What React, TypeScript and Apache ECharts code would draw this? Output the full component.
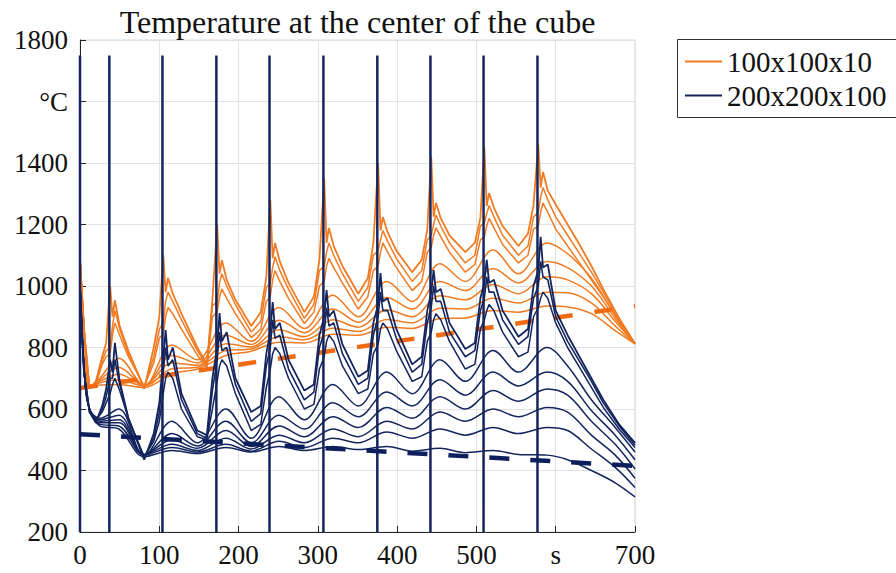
import React, { useEffect, useRef } from "react";
import * as echarts from "echarts";

// ---- time grids (s) ----
const T_FINE = [0, 5, 12, 20, 28, 33,
  38, 41, 44, 50, 61, 81, 93, 100,
  105, 108, 111, 117, 128, 148, 160, 167,
  173, 176, 179, 185, 196, 216, 228, 235,
  240, 243, 246, 252, 263, 283, 295, 302,
  308, 311, 314, 320, 331, 351, 363, 370,
  376, 379, 382, 388, 399, 419, 431, 438,
  443, 446, 449, 455, 466, 486, 498, 505,
  510, 513, 516, 522, 533, 553, 565, 572,
  578, 581, 584, 590, 600, 615, 630, 645, 660, 680, 700];

const T_MID = [0, 6, 12, 25, 49, 81, 116, 148, 184, 216, 251, 283, 319, 351, 387, 419, 454, 486, 521, 553, 589, 615, 645, 675, 700];

// ---- 100x100x10 (orange) ----
const O1 = [1090, 860, 668, 690, 770, 815,
  1000, 900, 954, 870, 790, 665, 800, 899,
  1100, 980, 1026, 975, 910, 800, 745, 955,
  1200, 1040, 1084, 1020, 955, 870, 915, 1029,
  1280, 1090, 1140, 1080, 1010, 915, 965, 1085,
  1350, 1140, 1189, 1130, 1065, 975, 1025, 1140,
  1400, 1180, 1224, 1175, 1115, 1045, 1085, 1182,
  1420, 1225, 1270, 1220, 1165, 1110, 1140, 1221,
  1450, 1260, 1302, 1255, 1195, 1130, 1170, 1263,
  1460, 1320, 1371, 1310, 1265, 1200, 1135, 1065, 990, 895, 812];
const O2 = [1090, 860, 668, 685, 755, 790,
  800, 870, 920, 860, 780, 672, 770, 860,
  880, 950, 980, 950, 890, 790, 740, 935,
  950, 1010, 1040, 1000, 940, 850, 885, 995,
  1010, 1060, 1095, 1050, 990, 895, 940, 1050,
  1065, 1110, 1140, 1100, 1040, 950, 995, 1100,
  1115, 1150, 1180, 1145, 1090, 1015, 1050, 1150,
  1165, 1200, 1231, 1195, 1140, 1075, 1100, 1195,
  1205, 1235, 1262, 1225, 1165, 1100, 1130, 1225,
  1240, 1290, 1320, 1280, 1225, 1165, 1105, 1045, 980, 892, 812];
const O3 = [1090, 860, 668, 682, 745, 770,
  780, 840, 880, 840, 770, 674, 750, 830,
  845, 900, 930, 910, 860, 775, 735, 900,
  915, 965, 990, 960, 910, 832, 860, 950,
  965, 1020, 1050, 1015, 960, 878, 915, 1000,
  1015, 1065, 1090, 1060, 1010, 925, 965, 1050,
  1065, 1110, 1140, 1110, 1060, 985, 1015, 1110,
  1125, 1165, 1189, 1160, 1110, 1045, 1070, 1150,
  1160, 1195, 1220, 1190, 1135, 1075, 1100, 1185,
  1195, 1240, 1270, 1240, 1185, 1130, 1075, 1020, 965, 885, 812];
const O4 = [1090, 830, 668, 700, 765, 676, 808, 760, 880, 820, 930, 862, 970, 900, 1015, 950, 1072, 1015, 1117, 1040, 1140, 1105, 1025, 905, 812];
const O5 = [1090, 830, 668, 695, 735, 678, 774, 750, 840, 810, 889, 848, 925, 882, 963, 925, 1015, 985, 1057, 1010, 1080, 1060, 1000, 895, 812];
const O6 = [1090, 830, 668, 690, 713, 678, 750, 742, 812, 802, 858, 835, 890, 866, 923, 900, 968, 955, 1005, 975, 1030, 1020, 975, 885, 812];
const O7 = [1090, 830, 668, 685, 695, 675, 731, 736, 790, 795, 835, 825, 863, 852, 891, 880, 928, 925, 960, 945, 980, 978, 945, 870, 812];
const O8 = [1090, 830, 668, 678, 680, 670, 715, 730, 774, 788, 817, 815, 843, 840, 866, 862, 894, 896, 920, 915, 935, 932, 910, 855, 812];

// ---- 200x200x100 (navy) ----
const N1 = [1000, 720, 590, 555, 610, 665,
  760, 720, 815, 690, 570, 435, 520, 620,
  760, 857, 760, 800, 650, 530, 515, 700,
  800, 912, 820, 850, 700, 590, 610, 780,
  850, 948, 860, 880, 760, 660, 680, 840,
  900, 987, 900, 920, 810, 705, 725, 880,
  940, 1042, 950, 960, 860, 745, 770, 920,
  980, 1052, 980, 990, 880, 795, 815, 960,
  1010, 1085, 1010, 1020, 920, 835, 860, 1000,
  1050, 1160, 1060, 1070, 920, 840, 770, 700, 630, 550, 490];
const N2 = [1000, 720, 590, 560, 600, 640,
  700, 700, 760, 680, 570, 440, 505, 590,
  720, 800, 740, 760, 630, 520, 505, 660,
  760, 850, 790, 800, 680, 560, 585, 740,
  800, 890, 830, 840, 730, 630, 655, 800,
  850, 930, 870, 880, 780, 680, 700, 840,
  900, 980, 920, 920, 830, 720, 745, 880,
  930, 1000, 950, 950, 850, 770, 790, 920,
  960, 1030, 980, 980, 890, 810, 835, 960,
  1000, 1080, 1030, 1020, 900, 820, 755, 690, 620, 545, 482];
const N3 = [1000, 720, 595, 565, 590, 620,
  650, 680, 700, 660, 570, 445, 495, 560,
  650, 700, 720, 700, 600, 510, 500, 600,
  690, 740, 760, 740, 650, 530, 550, 670,
  730, 780, 800, 780, 700, 600, 615, 730,
  770, 820, 840, 820, 740, 650, 665, 780,
  810, 860, 880, 860, 790, 690, 705, 820,
  850, 890, 910, 890, 820, 730, 745, 860,
  890, 920, 940, 920, 850, 770, 785, 900,
  930, 960, 980, 960, 880, 800, 735, 670, 605, 535, 475];
const N4 = [1000, 700, 600, 570, 600, 448, 560, 490, 600, 505, 640, 565, 680, 610, 720, 650, 760, 690, 790, 720, 800, 740, 630, 540, 460];
const N5 = [1000, 700, 600, 565, 580, 450, 520, 480, 560, 490, 580, 535, 620, 575, 655, 610, 695, 645, 720, 675, 720, 690, 595, 515, 435];
const N6 = [1000, 700, 600, 560, 565, 452, 500, 472, 530, 478, 545, 510, 575, 540, 605, 570, 640, 600, 660, 625, 665, 645, 560, 485, 405];
const N7 = [1000, 700, 600, 555, 555, 452, 485, 465, 505, 470, 515, 490, 535, 510, 560, 535, 590, 560, 600, 575, 605, 590, 515, 450, 375];
const N8 = [1000, 700, 600, 550, 545, 450, 475, 460, 485, 463, 495, 475, 505, 490, 525, 505, 535, 515, 540, 520, 540, 530, 470, 410, 345];
const N9 = [1000, 700, 600, 545, 535, 445, 465, 455, 475, 460, 478, 465, 478, 468, 478, 463, 472, 458, 465, 452, 450, 435, 400, 360, 314];

// pulses (navy vertical spikes)
const SPIKE_T = [0, 37, 104, 172, 239, 307, 375, 442, 509, 577];
const SPIKE_LOW = 200;
const SPIKE_HIGH = 1750;

// dashed trend lines
const TREND_T = [0, 700];
const ORANGE_TREND = [668, 935];
const NAVY_TREND = [518, 415];

// axes
const X_TICKS = [0, 100, 200, 300, 400, 500, 600, 700];
const Y_TICKS = [200, 400, 600, 800, 1000, 1200, 1400, 1600, 1800];
const X_UNIT_AT = 600;
const Y_UNIT_AT = 1600;

const TITLE = "Temperature at the center of the cube";
const NAME_ORANGE = "100x100x10";
const NAME_NAVY = "200x200x100";

const ORANGE = "#F07B22";
const NAVY = "#14255E";
const SERIF = "serif";

export default function App() {
  const ref = useRef<HTMLDivElement>(null);
  useEffect(() => {
    document.body.style.margin = "0";
    const chart = echarts.init(ref.current!, null, { renderer: "svg" });
    const pts = (ts: number[], vs: number[]) => ts.map((t, i) => [t, vs[i]]);
    const line = (name: string, ts: number[], vs: number[], color: string, width: number, smooth: number | boolean) => ({
      name,
      type: "line",
      data: pts(ts, vs),
      showSymbol: false,
      symbol: "none",
      smooth,
      silent: true,
      lineStyle: { color, width },
      itemStyle: { color },
    });
    const series: any[] = [];
    series.push(line(NAME_ORANGE, T_FINE, O1, ORANGE, 1.8, false));
    series.push(line("o2", T_FINE, O2, ORANGE, 1.5, false));
    series.push(line("o3", T_FINE, O3, ORANGE, 1.5, false));
    [O4, O5, O6, O7, O8].forEach((o, i) => series.push(line("o" + (i + 4), T_MID, o, ORANGE, 1.5, 0.35)));
    series.push({
      name: "orange trend", type: "line", data: pts(TREND_T, ORANGE_TREND), showSymbol: false, symbol: "none", silent: true,
      lineStyle: { color: "#F26A10", width: 4.5, type: [18, 22], cap: "butt" },
    });
    series.push(line(NAME_NAVY, T_FINE, N1, NAVY, 1.8, false));
    series.push(line("n2", T_FINE, N2, NAVY, 1.6, false));
    series.push(line("n3", T_FINE, N3, NAVY, 1.5, false));
    [N4, N5, N6, N7, N8, N9].forEach((n, i) => series.push(line("n" + (i + 4), T_MID, n, NAVY, 1.5, 0.35)));
    const spikeData: any[] = [];
    SPIKE_T.forEach((t) => { spikeData.push([t, SPIKE_LOW], [t, SPIKE_HIGH], [t, "-"]); });
    series.push({
      name: "spikes", type: "line", data: spikeData, showSymbol: false, symbol: "none", silent: true, connectNulls: false,
      lineStyle: { color: NAVY, width: 2.5 },
    });
    series.push({
      name: "navy trend", type: "line", data: pts(TREND_T, NAVY_TREND), showSymbol: false, symbol: "none", silent: true,
      lineStyle: { color: "#0C1F5C", width: 4.5, type: [20, 21], cap: "butt" },
    });

    const axisCommon = {
      type: "value",
      axisLine: { show: true, lineStyle: { color: "#262626", width: 1 } },
      axisTick: { show: true, inside: true, length: 6, lineStyle: { color: "#262626" } },
      splitLine: { show: true, lineStyle: { color: "#e2e2e2", width: 1 } },
    };

    chart.setOption({
      animation: false,
      backgroundColor: "#ffffff",
      textStyle: { fontFamily: SERIF },
      grid: { left: 80, right: 261, top: 40, bottom: 41, show: true, borderColor: "#d6d6d6", borderWidth: 1 },
      xAxis: {
        ...axisCommon,
        min: X_TICKS[0], max: X_TICKS[X_TICKS.length - 1], interval: X_TICKS[1] - X_TICKS[0],
        axisLabel: {
          fontFamily: SERIF, fontSize: 27, color: "#111", margin: 9, showMinLabel: true, showMaxLabel: true,
          formatter: (v: number) => (v === X_UNIT_AT ? "s" : String(v)),
        },
      },
      yAxis: {
        ...axisCommon,
        min: Y_TICKS[0], max: Y_TICKS[Y_TICKS.length - 1], interval: Y_TICKS[1] - Y_TICKS[0],
        axisLabel: {
          fontFamily: SERIF, fontSize: 27, color: "#111", margin: 12, showMinLabel: true, showMaxLabel: true,
          formatter: (v: number) => (v === Y_UNIT_AT ? "°C" : String(v)),
        },
      },
      legend: {
        data: [NAME_ORANGE, NAME_NAVY],
        orient: "vertical",
        left: 677,
        top: 39,
        icon: "rect",
        itemWidth: 37,
        itemHeight: 2,
        itemGap: 5,
        padding: [8, 8, 8, 8],
        selectedMode: false,
        textStyle: { fontFamily: SERIF, fontSize: 29, color: "#111" },
      },
      graphic: [
        {
          type: "rect",
          shape: { x: 677.5, y: 39.5, width: 260, height: 78 },
          style: { fill: "none", stroke: "#333", lineWidth: 1 },
          silent: true,
        },
        {
          type: "text",
          x: 357.5,
          y: 22,
          style: { text: TITLE, fontFamily: SERIF, fontSize: 32, fill: "#111", textAlign: "center", textVerticalAlign: "middle" },
        },
      ],
      series,
    });
    return () => chart.dispose();
  }, []);
  return <div ref={ref} style={{ width: 896, height: 573 }} />;
}
